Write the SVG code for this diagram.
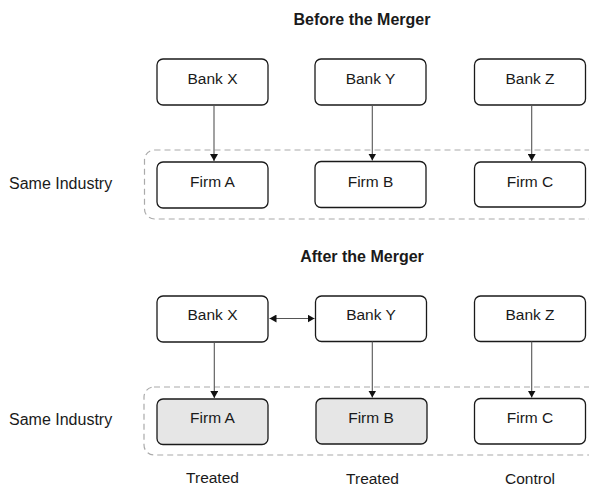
<svg xmlns="http://www.w3.org/2000/svg" width="589" height="487" viewBox="0 0 589 487">
  <style>
    .box { fill: #ffffff; stroke: #1a1a1a; stroke-width: 1.3; }
    .treated { fill: #e6e6e6; }
    .group { fill: none; stroke: #aaaaaa; stroke-width: 1.2; stroke-dasharray: 6 4; }
    .label { font-family: "Liberation Sans", Arial, sans-serif; font-size: 15.5px; fill: #1a1a1a; text-anchor: middle; }
    .side { font-family: "Liberation Sans", Arial, sans-serif; font-size: 16px; fill: #1a1a1a; }
    .title { font-family: "Liberation Sans", Arial, sans-serif; font-size: 16px; font-weight: bold; fill: #1a1a1a; text-anchor: middle; }
    .link { fill: none; stroke: #555555; stroke-width: 1.1; }
  </style>
  <defs>
    <marker id="head" markerUnits="userSpaceOnUse" markerWidth="8" markerHeight="8" refX="7" refY="4" orient="auto-start-reverse">
      <path d="M0,0 L7,4 L0,8 Z" fill="#111111"/>
    </marker>
  </defs>

  <rect width="589" height="487" fill="#ffffff"/>

  <!-- Panel titles -->
  <text class="title" x="362" y="25">Before the Merger</text>
  <text class="title" x="362" y="262">After the Merger</text>

  <!-- Industry groupings -->
  <g id="industry-before">
    <rect class="group" x="144.5" y="150" width="470" height="69" rx="10"/>
    <text class="side" x="9" y="188.5">Same Industry</text>
  </g>
  <g id="industry-after">
    <rect class="group" x="144" y="387" width="470" height="68" rx="10"/>
    <text class="side" x="9" y="425">Same Industry</text>
  </g>

  <!-- Before the merger -->
  <g id="bank-x-before">
    <rect class="box" x="157" y="59" width="111" height="46" rx="6"/>
    <text class="label" x="212.5" y="83.5">Bank X</text>
  </g>
  <g id="bank-y-before">
    <rect class="box" x="315" y="59" width="111" height="46" rx="6"/>
    <text class="label" x="370.5" y="83.5">Bank Y</text>
  </g>
  <g id="bank-z-before">
    <rect class="box" x="474.5" y="59" width="111" height="46" rx="6"/>
    <text class="label" x="530" y="83.5">Bank Z</text>
  </g>
  <g id="firm-a-before">
    <rect class="box" x="157" y="162" width="111" height="46" rx="6"/>
    <text class="label" x="212.5" y="187">Firm A</text>
  </g>
  <g id="firm-b-before">
    <rect class="box" x="315" y="161.5" width="111" height="46" rx="6"/>
    <text class="label" x="370.5" y="186.5">Firm B</text>
  </g>
  <g id="firm-c-before">
    <rect class="box" x="474.5" y="162" width="111" height="45" rx="6"/>
    <text class="label" x="530" y="186.5">Firm C</text>
  </g>

  <!-- After the merger -->
  <g id="bank-x-after">
    <rect class="box" x="157" y="296" width="111" height="46" rx="6"/>
    <text class="label" x="212.5" y="320">Bank X</text>
  </g>
  <g id="bank-y-after">
    <rect class="box" x="315.5" y="296" width="111" height="45.5" rx="6"/>
    <text class="label" x="371" y="320">Bank Y</text>
  </g>
  <g id="bank-z-after">
    <rect class="box" x="474.5" y="296" width="111" height="45.5" rx="6"/>
    <text class="label" x="530" y="320">Bank Z</text>
  </g>
  <g id="firm-a-after">
    <rect class="box treated" x="157" y="399" width="111" height="45.5" rx="6"/>
    <text class="label" x="212.5" y="422.5">Firm A</text>
  </g>
  <g id="firm-b-after">
    <rect class="box treated" x="316" y="398.5" width="111" height="45.5" rx="6"/>
    <text class="label" x="371" y="422.5">Firm B</text>
  </g>
  <g id="firm-c-after">
    <rect class="box" x="474.5" y="398.5" width="111" height="45.5" rx="6"/>
    <text class="label" x="530" y="422.5">Firm C</text>
  </g>

  <!-- Group outcome labels -->
  <text class="label" x="212.5" y="483">Treated</text>
  <text class="label" x="372.5" y="484">Treated</text>
  <text class="label" x="530" y="483.5">Control</text>

  <!-- Lending relationships -->
  <g id="connectors">
    <line class="link" x1="214" y1="105" x2="214" y2="161" marker-end="url(#head)"/>
    <line class="link" x1="372.3" y1="105" x2="372.3" y2="160.5" marker-end="url(#head)"/>
    <line class="link" x1="531.7" y1="105" x2="531.7" y2="161" marker-end="url(#head)"/>
    <line class="link" x1="214.3" y1="342" x2="214.3" y2="398" marker-end="url(#head)"/>
    <line class="link" x1="372.3" y1="341.5" x2="372.3" y2="397.5" marker-end="url(#head)"/>
    <line class="link" x1="531.7" y1="341.5" x2="531.7" y2="397.5" marker-end="url(#head)"/>
    <line class="link" x1="269.5" y1="318.5" x2="314.5" y2="318.5" marker-start="url(#head)" marker-end="url(#head)"/>
  </g>
</svg>
